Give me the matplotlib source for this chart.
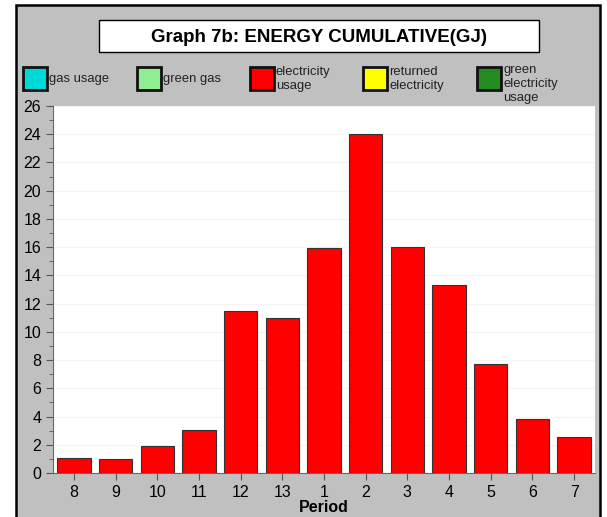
import matplotlib.pyplot as plt
from matplotlib.patches import Rectangle
from matplotlib.ticker import MultipleLocator

periods = ["8", "9", "10", "11", "12", "13", "1", "2", "3", "4", "5", "6", "7"]
electricity = [1.07, 1.02, 1.88, 3.08, 11.5, 10.95, 15.95, 24.05, 15.98, 13.3, 7.7, 3.85, 2.58]

legend_labels = ["gas usage", "green gas", "electricity\nusage", "returned\nelectricity",
                 "green\nelectricity\nusage"]
legend_colors = ["#00d8d8", "#90ee90", "#ff0000", "#ffff00", "#228b22"]

W, H = 607, 517
fig = plt.figure(figsize=(W / 100, H / 100), dpi=100)
fig.patch.set_facecolor("white")

# gray panel with black border
fig.patches.append(Rectangle((16 / W, -0.05), (600 - 16) / W, 1.05 - 5 / H,
                             transform=fig.transFigure, facecolor="#c0c0c0",
                             edgecolor="black", linewidth=1.8, zorder=-2))

# title box
fig.patches.append(Rectangle((99 / W, 1 - 52 / H), (539 - 99) / W, 32 / H,
                             transform=fig.transFigure, facecolor="white",
                             edgecolor="black", linewidth=1.0, zorder=-1))
fig.text(319 / W, 1 - 37 / H, "Graph 7b: ENERGY CUMULATIVE(GJ)", ha="center", va="center",
         fontsize=13.5, fontweight="bold", family="Liberation Sans")

# legend
xs = [23, 137, 250, 363, 477]
text_y = [79, 79, 79, 79, 84]
for x, ty, lab, c in zip(xs, text_y, legend_labels, legend_colors):
    fig.patches.append(Rectangle((x / W, 1 - 90 / H), 24 / W, 23 / H,
                                 transform=fig.transFigure, facecolor=c,
                                 edgecolor="#111111", linewidth=2.0, zorder=-1))
    fig.text((x + 26) / W, 1 - ty / H, lab, ha="left", va="center", fontsize=9.4,
             family="Liberation Sans", linespacing=1.2, color="#222222")

ax = fig.add_axes([53 / W, 1 - 473 / H, (595 - 53) / W, (473 - 106) / H])
ax.set_zorder(5)
ax.set_facecolor("white")
x = range(len(periods))
ax.bar(x, electricity, width=0.8, color="#ff0000", edgecolor="#333333", linewidth=0.8, zorder=3)

ax.set_xlim(-0.5, len(periods) - 0.5)
ax.set_ylim(0, 26)
ax.set_xticks(list(x))
ax.set_xticklabels(periods)
ax.yaxis.set_major_locator(MultipleLocator(2))
ax.yaxis.set_minor_locator(MultipleLocator(1))
ax.grid(axis="y", color="#f5f5f5", linewidth=0.8, zorder=0)
for s in ["top", "right"]:
    ax.spines[s].set_visible(False)
ax.spines["left"].set_color("#666666")
ax.spines["bottom"].set_color("#666666")
ax.tick_params(axis="both", labelsize=11.5, colors="#555555", labelcolor="black", length=5, width=0.8)
ax.tick_params(axis="y", which="minor", length=3, colors="#555555")
for t in ax.get_xticklabels() + ax.get_yticklabels():
    t.set_family("Liberation Sans")
ax.set_xlabel("Period", fontsize=11.5, fontweight="bold", family="Liberation Sans", labelpad=0)

fig.savefig("out.png", dpi=100)
